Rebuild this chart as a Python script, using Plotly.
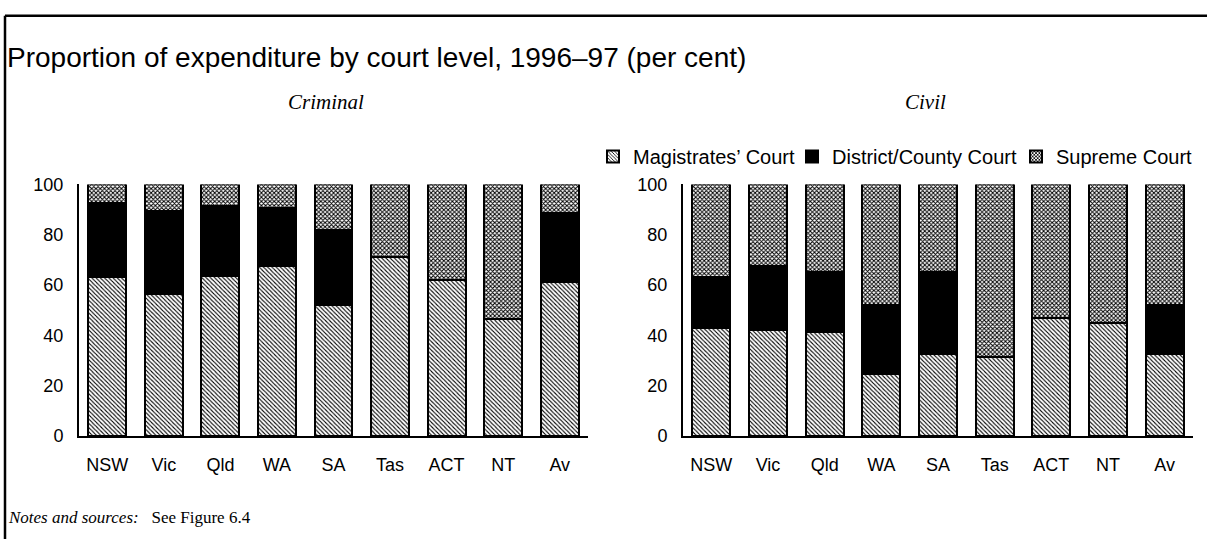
import plotly.graph_objects as go

categories = ["NSW", "Vic", "Qld", "WA", "SA", "Tas", "ACT", "NT", "Av"]

criminal_magistrates = [63.0, 56.5, 63.5, 67.5, 52.0, 71.0, 62.0, 46.5, 61.0]
criminal_district = [29.5, 33.0, 28.0, 23.0, 30.0, 0.0, 0.0, 0.0, 27.5]
criminal_supreme = [round(100 - m - d, 1) for m, d in zip(criminal_magistrates, criminal_district)]

civil_magistrates = [43.0, 42.0, 41.5, 24.5, 32.5, 31.5, 47.0, 45.0, 32.5]
civil_district = [20.0, 25.5, 23.5, 27.5, 32.5, 0.0, 0.0, 0.0, 19.5]
civil_supreme = [round(100 - m - d, 1) for m, d in zip(civil_magistrates, civil_district)]

series_names = ["Magistrates’ Court", "District/County Court", "Supreme Court"]
y_ticks = [0, 20, 40, 60, 80, 100]

W, H = 1207, 549
SANS = "Liberation Sans, Arial, sans-serif"
SERIF = "Liberation Serif, Times New Roman, serif"

patterns = [
    dict(shape="\\", size=3, solidity=0.35, fgcolor="black", bgcolor="white", fillmode="replace"),
    None,
    dict(shape="x", size=3, solidity=0.55, fgcolor="black", bgcolor="white", fillmode="replace"),
]
colors = ["white", "black", "white"]
legend_ids = ["legend", "legend2", "legend3"]

fig = go.Figure()
for panel, data in enumerate([
    (criminal_magistrates, criminal_district, criminal_supreme),
    (civil_magistrates, civil_district, civil_supreme),
]):
    xa = "x" if panel == 0 else "x2"
    ya = "y" if panel == 0 else "y2"
    for i, vals in enumerate(data):
        marker = dict(color=colors[i], line=dict(color="black", width=2))
        if patterns[i] is not None:
            marker["pattern"] = patterns[i]
        fig.add_trace(go.Bar(
            x=categories, y=vals, name=series_names[i], marker=marker,
            xaxis=xa, yaxis=ya, showlegend=(panel == 1),
            legend=legend_ids[i],
        ))

def px_x(p):
    return p / W

def px_y(p):
    return 1 - p / H

tick_font = dict(family=SANS, size=18, color="black")
axis_common = dict(showline=True, linecolor="black", linewidth=2, ticks="",
                   showgrid=False, zeroline=False, tickfont=tick_font)

leg_common = dict(orientation="h", xanchor="left", yanchor="middle", y=px_y(152),
                  font=dict(family=SANS, size=20, color="black"), itemwidth=30,
                  bgcolor="rgba(0,0,0,0)", borderwidth=0)

fig.update_layout(
    width=W, height=H,
    margin=dict(l=0, r=0, t=0, b=0),
    paper_bgcolor="white", plot_bgcolor="white",
    barmode="stack", bargap=0.33,
    font=dict(family=SANS, color="black"),
    xaxis=dict(domain=[px_x(79), px_x(588)], anchor="y", ticklabelstandoff=12, **axis_common),
    yaxis=dict(domain=[px_y(442), px_y(181)], range=[0, 100], anchor="x",
               tickvals=y_ticks, ticklabelstandoff=10, **axis_common),
    xaxis2=dict(domain=[px_x(683), px_x(1193)], anchor="y2", ticklabelstandoff=12, **axis_common),
    yaxis2=dict(domain=[px_y(442), px_y(181)], range=[0, 100], anchor="x2",
                tickvals=y_ticks, ticklabelstandoff=10, **axis_common),
    legend=dict(x=px_x(593), **leg_common),
    legend2=dict(x=px_x(792), **leg_common),
    legend3=dict(x=px_x(1016), **leg_common),
    showlegend=True,
)

fig.add_annotation(text="Proportion of expenditure by court level, 1996–97 (per cent)",
                   x=px_x(5), y=px_y(49), xref="paper", yref="paper",
                   xanchor="left", yanchor="middle", showarrow=False,
                   font=dict(family=SANS, size=28, color="black"))
fig.add_annotation(text="<i>Criminal</i>", x=px_x(326), y=px_y(95), xref="paper", yref="paper",
                   xanchor="center", yanchor="middle", showarrow=False,
                   font=dict(family=SERIF, size=21, color="black"))
fig.add_annotation(text="<i>Civil</i>", x=px_x(925), y=px_y(95), xref="paper", yref="paper",
                   xanchor="center", yanchor="middle", showarrow=False,
                   font=dict(family=SERIF, size=21, color="black"))
fig.add_annotation(text="<i>Notes and sources:</i>   See Figure 6.4", x=px_x(6), y=px_y(527),
                   xref="paper", yref="paper", xanchor="left", yanchor="middle", showarrow=False,
                   font=dict(family=SERIF, size=17, color="black"))

fig.add_shape(type="line", xref="paper", yref="paper", x0=px_x(5), x1=1, y0=px_y(6), y1=px_y(6),
              line=dict(color="black", width=2.5))
fig.add_shape(type="line", xref="paper", yref="paper", x0=px_x(5), x1=px_x(5), y0=px_y(6), y1=0,
              line=dict(color="black", width=2.5))

fig.write_html(
    "out.html",
    config={"displayModeBar": False},
    post_script=(
        "var s=document.createElement('style');"
        "s.innerHTML='html,body{margin:0 !important;padding:0 !important;overflow:hidden !important;"
        "height:549px !important;}';"
        "document.head.appendChild(s);"
        "var g=document.getElementById('{plot_id}');"
        "g.style.position='fixed';g.style.top='0px';g.style.left='0px';"
    ),
)
